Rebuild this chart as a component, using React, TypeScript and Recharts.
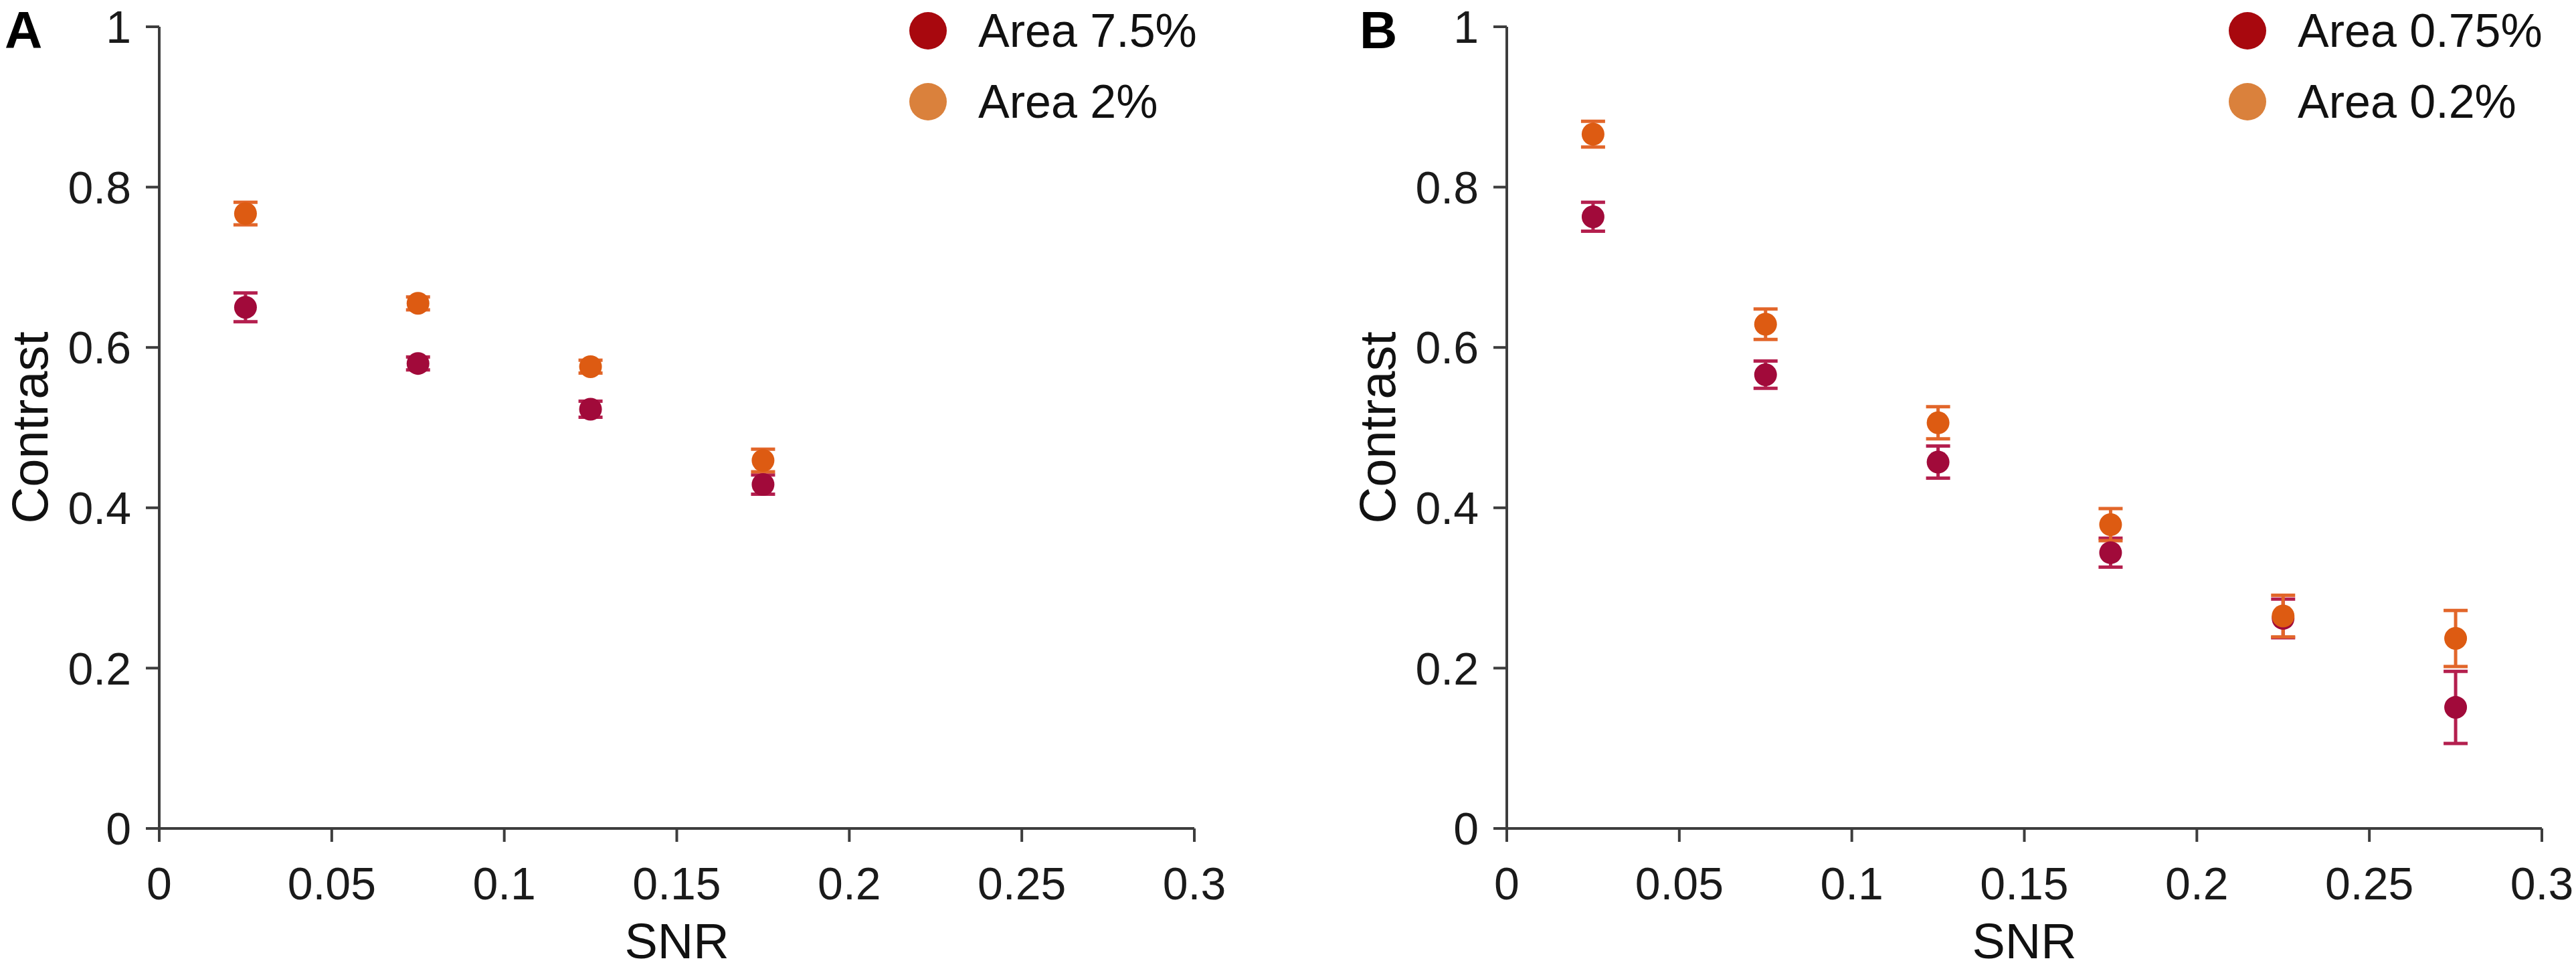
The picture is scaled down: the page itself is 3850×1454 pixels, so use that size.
import React from 'react';
import { ScatterChart, Scatter, XAxis, YAxis, ErrorBar, Legend } from 'recharts';

// ---- data ----
const snrA = [0.025, 0.075, 0.125, 0.175];
const contrastA75 = [0.650, 0.580, 0.523, 0.429];
const errA75 = [0.018, 0.008, 0.010, 0.012];
const contrastA2 = [0.767, 0.655, 0.576, 0.459];
const errA2 = [0.014, 0.008, 0.008, 0.014];

const snrB = [0.025, 0.075, 0.125, 0.175, 0.225, 0.275];
const contrastB075 = [0.763, 0.566, 0.457, 0.344, 0.262, 0.151];
const errB075 = [0.018, 0.017, 0.020, 0.018, 0.024, 0.045];
const contrastB02 = [0.866, 0.629, 0.506, 0.379, 0.265, 0.237];
const errB02 = [0.016, 0.019, 0.020, 0.020, 0.026, 0.035];

const xTicks = [0, 0.05, 0.1, 0.15, 0.2, 0.25, 0.3];
const yTicks = [0, 0.2, 0.4, 0.6, 0.8, 1];
const legendNamesA = ['Area 7.5%', 'Area 2%'];
const legendNamesB = ['Area 0.75%', 'Area 0.2%'];

// ---- styles ----
const H = 1454;
const FONT = '"Liberation Sans", Arial, Helvetica, sans-serif';
const DARK = '#A10A3A';
const DARK_BAR = '#B41F4E';
const ORANGE = '#DD5B12';
const ORANGE_BAR = '#E2662A';
const LEG_DARK = '#A8080E';
const LEG_ORANGE = '#DA813C';
const AXIS = '#3d3d3d';

const build = (xs: number[], ys: number[], es: number[]) =>
  xs.map((x, i) => ({ x, y: ys[i], err: es[i] }));

const dataA75 = build(snrA, contrastA75, errA75);
const dataA2 = build(snrA, contrastA2, errA2);
const dataB075 = build(snrB, contrastB075, errB075);
const dataB02 = build(snrB, contrastB02, errB02);

const axisLine = { stroke: AXIS, strokeWidth: 4 };
const tickStyle = { fontSize: 68, fill: '#1a1a1a', fontFamily: FONT };

const snrLabel = (props: any) => {
  const vb = props.viewBox || {};
  const x = (vb.x ?? 238) + (vb.width ?? 1547) / 2;
  const y = (vb.y ?? 1238) + 194;
  return (
    <text x={x} y={y} textAnchor="middle" fontSize={74} fontFamily={FONT} fill="#111">
      SNR
    </text>
  );
};

const contrastLabel = (props: any) => {
  const vb = props.viewBox || {};
  const x = (vb.x ?? 0) + 71;
  const y = (vb.y ?? 40) + (vb.height ?? 1198) / 2;
  return (
    <text
      x={x}
      y={y}
      textAnchor="middle"
      fontSize={76}
      fontFamily={FONT}
      fill="#111"
      transform={`rotate(-90 ${x} ${y})`}
    >
      Contrast
    </text>
  );
};

const dot = (color: string) => (p: any) =>
  <circle cx={p.cx} cy={p.cy} r={17} fill={color} />;

const legendContent = (names: string[]) => () => (
  <div style={{ fontFamily: FONT }}>
    {names.map((n, i) => (
      <div key={n} style={{ display: 'flex', alignItems: 'center', height: 106 }}>
        <svg width={56} height={56} style={{ display: 'block' }}>
          <circle cx={28} cy={28} r={28} fill={i === 0 ? LEG_DARK : LEG_ORANGE} />
        </svg>
        <span style={{ marginLeft: 47, fontSize: 70, color: '#111', whiteSpace: 'nowrap', lineHeight: '1' }}>
          {n}
        </span>
      </div>
    ))}
  </div>
);

interface PanelProps {
  left: number;
  width: number;
  marginRight: number;
  letter: string;
  letterX: number;
  names: string[];
  legendLeft: number;
  dark: any[];
  orange: any[];
}

function Panel({ left, width, marginRight, letter, letterX, names, legendLeft, dark, orange }: PanelProps) {
  return (
    <div style={{ position: 'absolute', left, top: 0, width, height: H }}>
      <ScatterChart width={width} height={H} margin={{ top: 40, right: marginRight, left: 0, bottom: 0 }}>
        <XAxis
          type="number"
          dataKey="x"
          domain={[0, 0.3]}
          ticks={xTicks}
          interval={0}
          height={216}
          tickSize={20}
          tickMargin={38}
          axisLine={axisLine}
          tickLine={axisLine}
          tick={tickStyle}
          label={snrLabel}
        />
        <YAxis
          type="number"
          dataKey="y"
          domain={[0, 1]}
          ticks={yTicks}
          interval={0}
          width={238}
          tickSize={20}
          tickMargin={22}
          axisLine={axisLine}
          tickLine={axisLine}
          tick={tickStyle}
          label={contrastLabel}
        />
        <Legend
          layout="vertical"
          align="center"
          verticalAlign="middle"
          wrapperStyle={{ left: legendLeft, top: -7, width: 'auto' }}
          content={legendContent(names)}
        />
        <Scatter name={names[0]} data={dark} fill={DARK} shape={dot(DARK)} isAnimationActive={false}>
          <ErrorBar dataKey="err" direction="y" width={18} strokeWidth={5} stroke={DARK_BAR} />
        </Scatter>
        <Scatter name={names[1]} data={orange} fill={ORANGE} shape={dot(ORANGE)} isAnimationActive={false}>
          <ErrorBar dataKey="err" direction="y" width={18} strokeWidth={5} stroke={ORANGE_BAR} />
        </Scatter>
      </ScatterChart>
      <svg
        width={200}
        height={110}
        style={{ position: 'absolute', left: 0, top: 0, pointerEvents: 'none' }}
      >
        <text x={letterX} y={72} fontSize={78} fontWeight="bold" fontFamily={FONT} fill="#000">
          {letter}
        </text>
      </svg>
    </div>
  );
}

export default function App() {
  return (
    <div
      style={{
        position: 'absolute',
        left: 0,
        top: 0,
        width: 3850,
        height: H,
        background: '#fff',
        overflow: 'hidden',
      }}
    >
      <Panel
        left={0}
        width={1925}
        marginRight={140}
        letter="A"
        letterX={7}
        names={legendNamesA}
        legendLeft={1359}
        dark={dataA75}
        orange={dataA2}
      />
      <Panel
        left={2014}
        width={1836}
        marginRight={51}
        letter="B"
        letterX={18}
        names={legendNamesB}
        legendLeft={1317}
        dark={dataB075}
        orange={dataB02}
      />
    </div>
  );
}
